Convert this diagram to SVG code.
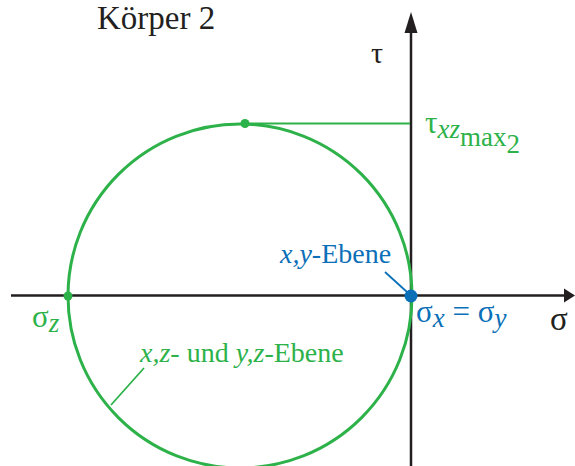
<svg xmlns="http://www.w3.org/2000/svg" width="575" height="466" viewBox="0 0 575 466">
<style>
.i{font-style:italic;}
.g{fill:#2db24a;}
.b{fill:#0c70b8;}
.k{fill:#231f20;}
.gs{stroke:#2db24a;fill:none;}
.bs{stroke:#0c70b8;fill:none;}
</style>
<rect width="575" height="466" fill="#ffffff"/>
<g id="axes">
<line x1="11" y1="295.5" x2="566" y2="295.5" stroke="#231f20" stroke-width="2.5"/>
<polygon points="575,295.5 564,288.5 564,302.5" fill="#231f20"/>
<line x1="411" y1="466" x2="411" y2="31" stroke="#231f20" stroke-width="2.5"/>
<polygon points="411,12 404.5,33 417.5,33" fill="#231f20"/>
</g>
<g id="circle">
<circle cx="240" cy="296" r="172" class="gs" stroke-width="3"/>
</g>
<g id="connectors">
<line x1="245" y1="123.5" x2="410" y2="123.5" class="gs" stroke-width="1.8"/>
<line x1="385" y1="272" x2="407" y2="292" class="bs" stroke-width="1.8"/>
<line x1="144" y1="368" x2="111" y2="405" class="gs" stroke-width="1.8"/>
</g>
<g id="points">
<circle cx="245" cy="123.5" r="4.5" class="g"/>
<circle cx="68" cy="296" r="4.5" class="g"/>
<circle cx="411" cy="296" r="6.5" class="b"/>
</g>
<g id="labels">
<text x="97" y="29" class="k" font-family="Liberation Serif, serif" font-size="33">Körper 2</text>
<text x="371" y="63" class="k" font-family="Liberation Serif, serif" font-size="30">τ</text>
<text x="550" y="330" class="k" font-family="Liberation Serif, serif" font-size="33">σ</text>
<text x="425" y="133" class="g" font-family="Liberation Serif, serif" font-size="31">τ<tspan class="i" font-size="27" dy="5">xz</tspan><tspan font-size="27" dy="8">max</tspan><tspan font-size="27" dy="7">2</tspan></text>
<text x="32" y="327" class="g" font-family="Liberation Serif, serif" font-size="31">σ<tspan class="i" font-size="27" dy="5">z</tspan></text>
<text x="280" y="263" class="b" font-family="Liberation Serif, serif" font-size="28"><tspan class="i">x,y</tspan>-Ebene</text>
<text x="416" y="322" class="b" font-family="Liberation Serif, serif" font-size="31">σ<tspan class="i" font-size="27" dy="5">x</tspan><tspan dy="-5"> = σ</tspan><tspan class="i" font-size="27" dy="5">y</tspan></text>
<text x="140" y="362" class="g" font-family="Liberation Serif, serif" font-size="28"><tspan class="i">x,z</tspan>- und <tspan class="i">y,z</tspan>-Ebene</text>
</g>
</svg>
